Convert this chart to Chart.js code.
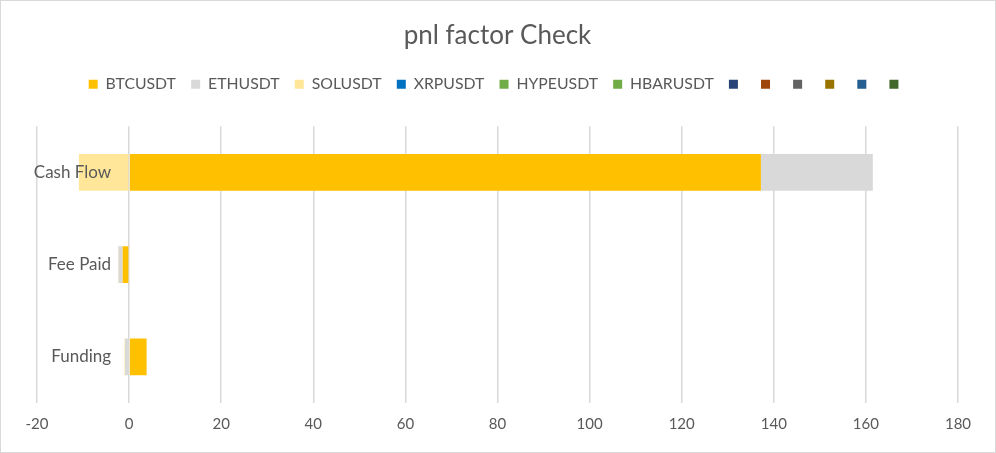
<!DOCTYPE html>
<html>
<head>
<meta charset="utf-8">
<script src="https://cdn.jsdelivr.net/npm/chart.js@4.4.1/dist/chart.umd.min.js"></script>
<style>
html,body{margin:0;padding:0;background:#fff;}
#wrap{width:996px;height:453px;position:relative;}
</style>
</head>
<body>
<div id="wrap"><canvas id="c" width="996" height="453"></canvas></div>
<script>
const categories = ['Cash Flow', 'Fee Paid', 'Funding'];
const seriesNames = ['BTCUSDT', 'ETHUSDT', 'SOLUSDT', 'XRPUSDT', 'HYPEUSDT', 'HBARUSDT', '', '', '', '', '', ''];
const btcValues  = [137.2, -1.4, 3.8];
const ethValues  = [24.3, -0.9, -0.9];
const solValues  = [-10.9, -0.1, -0.1];
const xrpValues  = [0, 0, 0];
const hypeValues = [0, 0, 0];
const hbarValues = [0, 0, 0];
const emptyValues = [0, 0, 0];
const xTicks = [-20, 0, 20, 40, 60, 80, 100, 120, 140, 160, 180];

const colors = ['#FFC000', '#D9D9D9', '#FFE699', '#0070C0', '#70AD47', '#70AD47',
                '#264478', '#9E480E', '#636363', '#997300', '#255E91', '#43682B'];
const allValues = [btcValues, ethValues, solValues, xrpValues, hypeValues, hbarValues,
                   emptyValues, emptyValues, emptyValues, emptyValues, emptyValues, emptyValues];

const FONT = 'Lato, "Open Sans", sans-serif';
const TXT = '#595959';

const frame = {
  id: 'frame',
  beforeDraw(chart) {
    const c = chart.ctx;
    c.save();
    c.fillStyle = '#fff';
    c.fillRect(0, 0, chart.width, chart.height);
    c.strokeStyle = '#d9d9d9';
    c.lineWidth = 1;
    c.strokeRect(0.5, 0.5, chart.width - 1, chart.height - 1);
    c.restore();
  }
};
const legendGap = {
  id: 'legendGap',
  beforeUpdate(chart) {
    const lg = chart.legend;
    if (lg && !lg._gapWrapped) {
      const f = lg.fit;
      lg.fit = function () { f.call(this); this.height += 24; };
      lg._gapWrapped = true;
    }
  }
};

new Chart(document.getElementById('c'), {
  type: 'bar',
  data: {
    labels: categories,
    datasets: seriesNames.map((n, i) => ({
      label: n,
      data: allValues[i],
      backgroundColor: colors[i],
      borderWidth: 0,
      barPercentage: 0.4,
      categoryPercentage: 1.0
    }))
  },
  plugins: [frame, legendGap],
  options: {
    indexAxis: 'y',
    responsive: false,
    animation: false,
    layout: { padding: { left: 37, right: 38, top: 0, bottom: 8 } },
    plugins: {
      title: {
        display: true,
        text: 'pnl factor Check',
        color: TXT,
        font: { family: FONT, size: 26, weight: 'normal' },
        padding: { top: 20, bottom: 10 }
      },
      legend: {
        position: 'top',
        labels: {
          color: TXT,
          font: { family: FONT, size: 15.8 },
          boxWidth: 9,
          boxHeight: 9,
          padding: 15.2
        }
      },
      tooltip: { enabled: false }
    },
    scales: {
      x: {
        stacked: true,
        min: -20,
        max: 180,
        afterBuildTicks(axis) { axis.ticks = xTicks.map(v => ({ value: v })); },
        grid: { color: '#d9d9d9', lineWidth: 1.5, drawTicks: false },
        border: { display: false },
        ticks: { color: TXT, font: { family: FONT, size: 15 }, padding: 12 }
      },
      y: {
        stacked: true,
        position: { x: -3.9 },
        grid: { display: false, drawTicks: false },
        border: { display: false },
        ticks: { color: TXT, font: { family: FONT, size: 17 }, z: 1 }
      }
    }
  }
});
</script>
</body>
</html>
